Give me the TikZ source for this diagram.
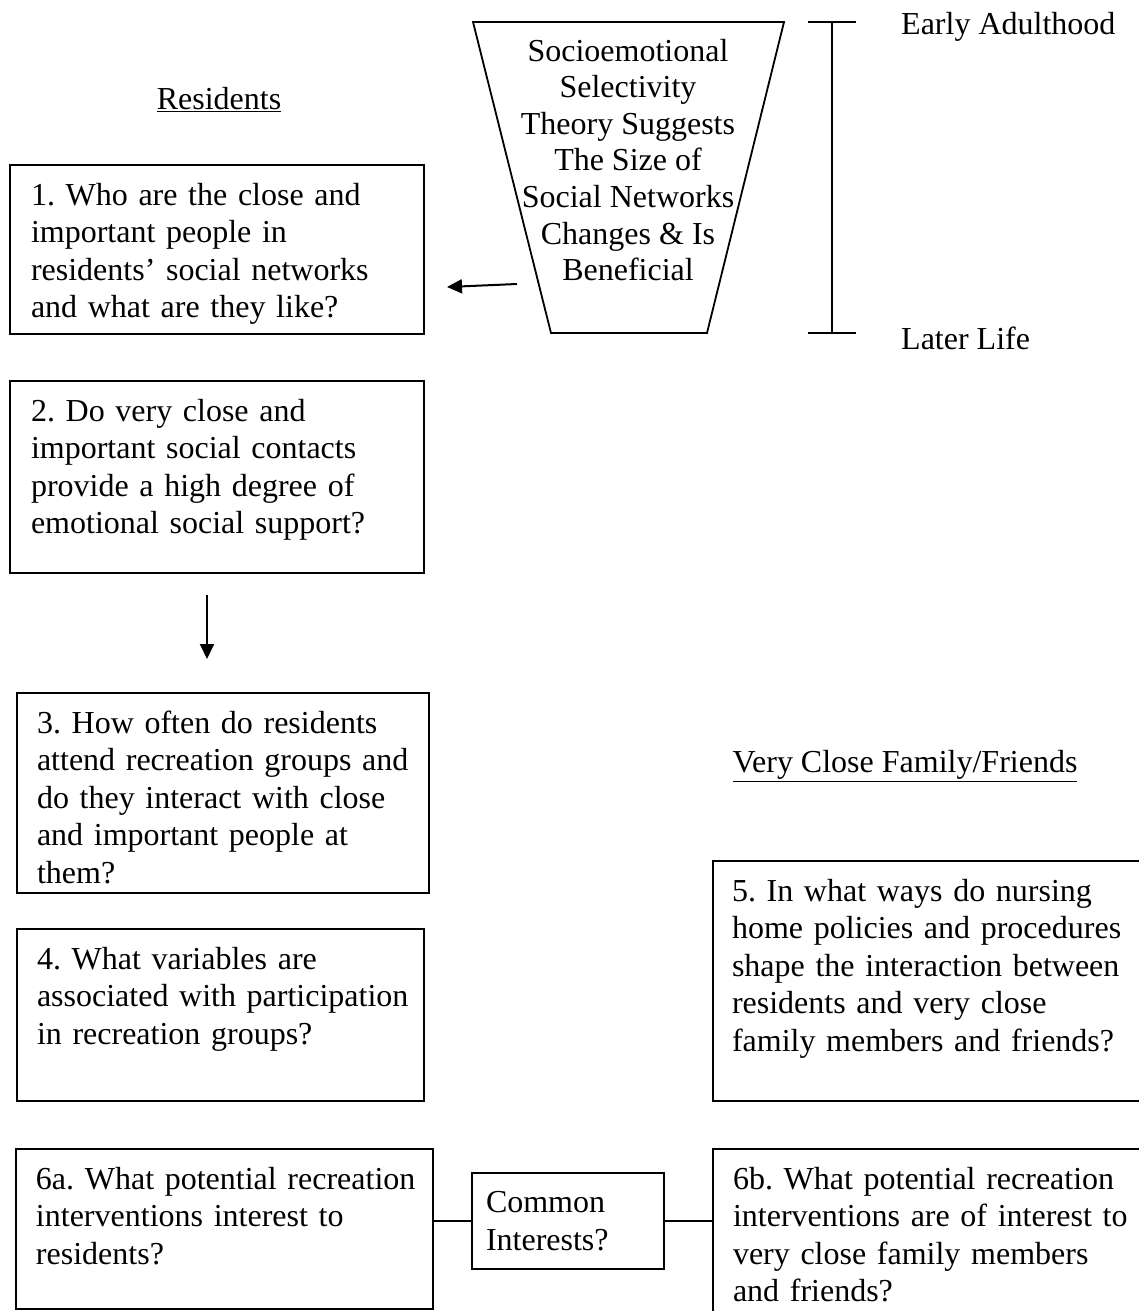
\documentclass[tikz,border=0pt]{standalone}
\usepackage{fontspec}
\setmainfont{Liberation Serif}
\usetikzlibrary{arrows.meta}
\frenchspacing
\hyphenpenalty=10000
\exhyphenpenalty=10000

\begin{document}
\begin{tikzpicture}[x=1pt,y=1pt,yscale=-1,xscale=1,font=\fontsize{32}{37.5}\selectfont,
  qbox/.style={draw, line width=2pt, anchor=north west, align=left, inner sep=0pt, text height=40pt},
  lbl/.style={inner sep=0pt},
  arr/.style={line width=2pt, -{Triangle[length=15pt,width=14pt]}}]
\useasboundingbox (0,0) rectangle (1138,1311);

% Text Node
\node (res) [lbl] at (219,100) {\underline{Residents}};
% Text Node
\node (fam) [lbl] at (905,766) {\underline{Very Close Family/Friends}};

%Shape: Trapezoid
\draw [line width=1.8pt] (473,22) -- (784,22) -- (707,333) -- (551,333) -- cycle ;
% Text Node
\node (sst) [align=center, font=\fontsize{32}{36.6}\selectfont] at (628,160) {Socioemotional\\Selectivity\\Theory Suggests\\The Size of\\Social Networks\\Changes \& Is\\Beneficial};

%Straight Lines
\coordinate (early) at (832,22);
\coordinate (later) at (832,333);
\draw [line width=1.8pt] (early) -- (later) ;
\draw [line width=1.8pt] (808,22) -- (856,22) ;
\draw [line width=1.8pt] (808,333) -- (856,333) ;
% Text Node
\node (ea) [lbl, anchor=west] at (901,27) {Early Adulthood};
% Text Node
\node (ll) [lbl, anchor=west] at (901,338) {Later Life};

%Shape: Rectangle
\node (q1) [qbox, text width=414pt, text depth=129pt] at (9,164) {\leftskip=21pt 1. Who are the close and\\important people in\\residents’ social networks\\and what are they like?\par};
%Shape: Rectangle
\node (q2) [qbox, text width=414pt, text depth=152pt] at (9,380) {\leftskip=21pt 2. Do very close and\\important social contacts\\provide a high degree of\\emotional social support?\par};
%Shape: Rectangle
\node (q3) [qbox, text width=412pt, text depth=160pt] at (16,692) {\leftskip=20pt 3. How often do residents\\attend recreation groups and\\do they interact with close\\and important people at\\them?\par};
%Shape: Rectangle
\node (q4) [qbox, text width=407pt, text depth=132pt] at (16,928) {\leftskip=20pt 4. What variables are\\associated with participation\\in recreation groups?\par};
%Shape: Rectangle
\node (q5) [qbox, text width=448pt, text depth=200pt] at (712,860) {\leftskip=19pt 5. In what ways do nursing\\home policies and procedures\\shape the interaction between\\residents and very close\\family members and friends?\par};
%Shape: Rectangle
\node (q6a) [qbox, text width=417pt, text depth=120pt] at (15,1148) {\leftskip=20pt 6a. What potential recreation\\interventions interest to\\residents?\par};
%Shape: Rectangle
\node (common) [draw, line width=2pt, anchor=north west, align=left, text width=164pt, inner xsep=14pt, minimum height=96pt] at (471,1172) {Common\\Interests?};
%Shape: Rectangle
\node (q6b) [qbox, text width=448pt, text depth=142pt] at (712,1148) {\leftskip=20pt 6b. What potential recreation\\interventions are of interest to\\very close family members\\and friends?\par};

%Straight Lines
\coordinate (sstail) at (517,284);
\coordinate (sshead) at (447,287);
\draw [arr] (sstail) -- (sshead) ;
%Straight Lines
\coordinate (downtail) at (207,595);
\coordinate (downhead) at (207,659);
\draw [arr] (downtail) -- (downhead) ;
%Straight Lines
\draw [line width=2pt] (common.west) -- (common.west -| q6a.east) ;
\draw [line width=2pt] (common.east) -- (common.east -| q6b.west) ;

\end{tikzpicture}
\end{document}
